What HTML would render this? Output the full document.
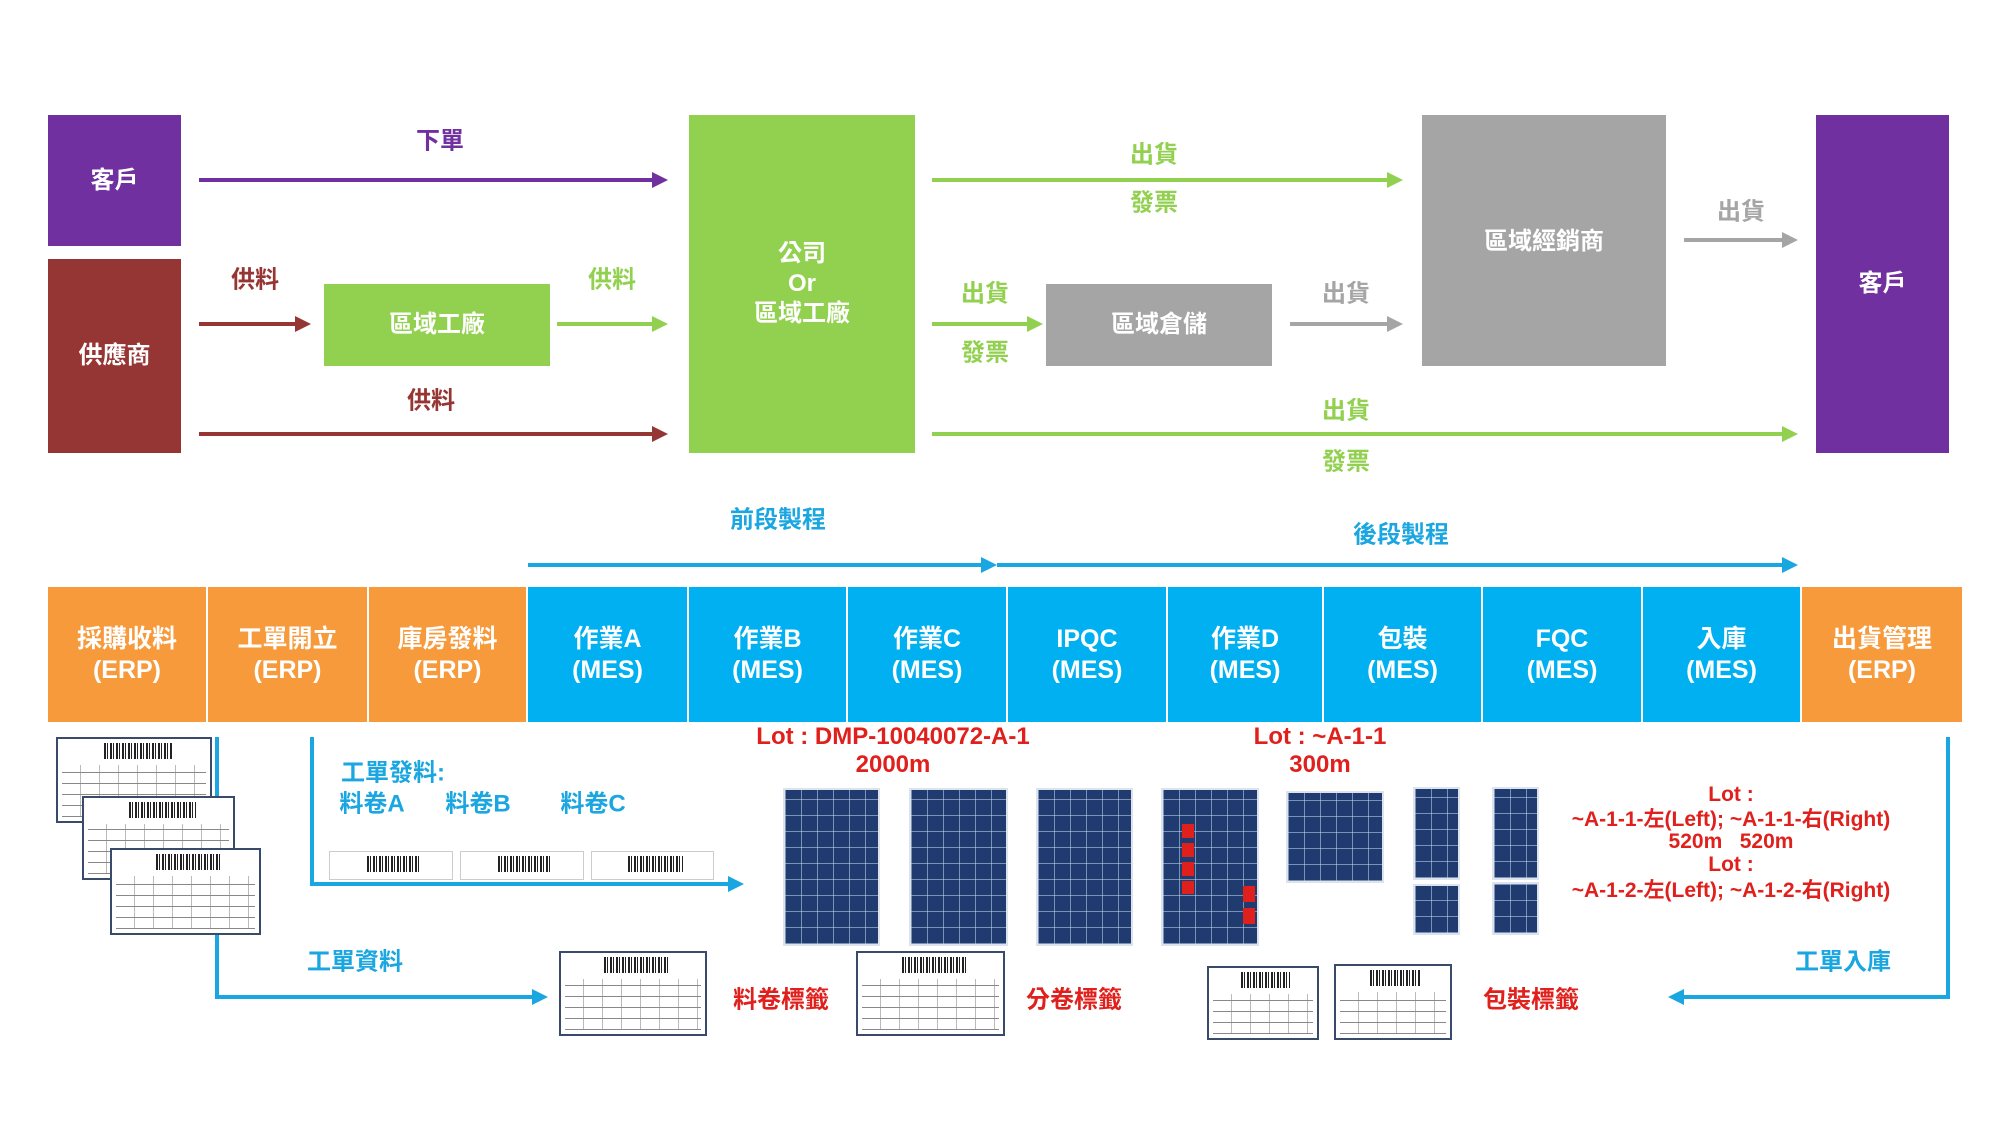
<!DOCTYPE html>
<html><head><meta charset="utf-8"><style>
body{margin:0;width:2000px;height:1125px;background:#fff;position:relative;overflow:hidden;font-family:"Liberation Sans","Noto Sans CJK TC",sans-serif}
.b{position:absolute;display:flex;align-items:center;justify-content:center;text-align:center;color:#fff;font-size:24px;line-height:30px;font-weight:bold}
.t{position:absolute;transform:translate(-50%,-50%);white-space:nowrap;font-size:24px;font-weight:bold}
.c{position:absolute;top:587px;height:135px;display:flex;align-items:center;justify-content:center;text-align:center;color:#fff;font-size:25px;line-height:31px;box-sizing:border-box;border-right:2px solid #fff;font-weight:bold}
.o{background:#f79a3c}.bl{background:#00b0f0}
.p{position:absolute;background-color:#1f3b70;background-image:repeating-linear-gradient(90deg,rgba(200,215,240,.55) 0 1px,transparent 1px 16px),repeating-linear-gradient(0deg,rgba(200,215,240,.55) 0 1px,transparent 1px 16px);border:2px solid #dde3ec;box-sizing:border-box}
.lb{position:absolute;border:2px solid #3a4a6a;background:#fff;box-sizing:border-box}
.lb::before{content:"";position:absolute;left:30%;top:4px;width:45%;height:16px;background:repeating-linear-gradient(90deg,#222 0 2px,#fff 2px 3px,#222 3px 4px,#fff 4px 6px)}
.lb::after{content:"";position:absolute;left:4px;right:4px;top:26px;bottom:4px;background:repeating-linear-gradient(0deg,#888 0 1px,transparent 1px 11px),repeating-linear-gradient(90deg,transparent 0 18px,#bbb 18px 19px)}
.r{color:#e0201c}.bt{color:#1aa6e0}
</style></head><body>
<div class="b" style="left:48px;top:115px;width:133px;height:131px;background:#7030a0">客戶</div>
<div class="b" style="left:48px;top:259px;width:133px;height:194px;background:#963634">供應商</div>
<div class="b" style="left:324px;top:284px;width:226px;height:82px;background:#92d050">區域工廠</div>
<div class="b" style="left:689px;top:115px;width:226px;height:338px;background:#92d050">公司<br>Or<br>區域工廠</div>
<div class="b" style="left:1046px;top:284px;width:226px;height:82px;background:#a5a5a5">區域倉儲</div>
<div class="b" style="left:1422px;top:115px;width:244px;height:251px;background:#a5a5a5;align-items:flex-start"><span style="margin-top:112px">區域經銷商</span></div>
<div class="b" style="left:1816px;top:115px;width:133px;height:338px;background:#7030a0">客戶</div>

<svg style="position:absolute;left:0;top:0" width="2000" height="1125">
<defs>
<marker id="mp" markerWidth="4" markerHeight="4" refX="3" refY="2" orient="auto"><path d="M0,0L4,2L0,4z" fill="#7030a0"/></marker>
<marker id="mr" markerWidth="4" markerHeight="4" refX="3" refY="2" orient="auto"><path d="M0,0L4,2L0,4z" fill="#963634"/></marker>
<marker id="mg" markerWidth="4" markerHeight="4" refX="3" refY="2" orient="auto"><path d="M0,0L4,2L0,4z" fill="#92d050"/></marker>
<marker id="ma" markerWidth="4" markerHeight="4" refX="3" refY="2" orient="auto"><path d="M0,0L4,2L0,4z" fill="#a5a5a5"/></marker>
<marker id="mb" markerWidth="4" markerHeight="4" refX="3" refY="2" orient="auto"><path d="M0,0L4,2L0,4z" fill="#1aa6e0"/></marker>
</defs>
<g stroke-width="4" fill="none">
<line x1="199" y1="180" x2="664" y2="180" stroke="#7030a0" marker-end="url(#mp)"/>
<line x1="199" y1="324" x2="307" y2="324" stroke="#963634" marker-end="url(#mr)"/>
<line x1="199" y1="434" x2="664" y2="434" stroke="#963634" marker-end="url(#mr)"/>
<line x1="557" y1="324" x2="664" y2="324" stroke="#92d050" marker-end="url(#mg)"/>
<line x1="932" y1="180" x2="1399" y2="180" stroke="#92d050" marker-end="url(#mg)"/>
<line x1="932" y1="324" x2="1039" y2="324" stroke="#92d050" marker-end="url(#mg)"/>
<line x1="932" y1="434" x2="1794" y2="434" stroke="#92d050" marker-end="url(#mg)"/>
<line x1="1290" y1="324" x2="1399" y2="324" stroke="#a5a5a5" marker-end="url(#ma)"/>
<line x1="1684" y1="240" x2="1794" y2="240" stroke="#a5a5a5" marker-end="url(#ma)"/>
<line x1="528" y1="565" x2="993" y2="565" stroke="#1aa6e0" marker-end="url(#mb)"/>
<line x1="997" y1="565" x2="1794" y2="565" stroke="#1aa6e0" marker-end="url(#mb)"/>
<polyline points="217,737 217,997 544,997" stroke="#1aa6e0" marker-end="url(#mb)"/>
<polyline points="312,737 312,884 740,884" stroke="#1aa6e0" marker-end="url(#mb)"/>
<polyline points="1948,737 1948,997 1672,997" stroke="#1aa6e0" marker-end="url(#mb)"/>
</g></svg>

<div class="t" style="left:440px;top:138px;color:#7030a0">下單</div>
<div class="t" style="left:255px;top:277px;color:#963634">供料</div>
<div class="t" style="left:431px;top:398px;color:#963634">供料</div>
<div class="t" style="left:612px;top:277px;color:#92d050">供料</div>
<div class="t" style="left:1154px;top:152px;color:#92d050">出貨</div>
<div class="t" style="left:1154px;top:200px;color:#92d050">發票</div>
<div class="t" style="left:985px;top:291px;color:#92d050">出貨</div>
<div class="t" style="left:985px;top:350px;color:#92d050">發票</div>
<div class="t" style="left:1346px;top:408px;color:#92d050">出貨</div>
<div class="t" style="left:1346px;top:459px;color:#92d050">發票</div>
<div class="t" style="left:1346px;top:291px;color:#a5a5a5">出貨</div>
<div class="t" style="left:1741px;top:209px;color:#a5a5a5">出貨</div>
<div class="t bt" style="left:778px;top:517px">前段製程</div>
<div class="t bt" style="left:1401px;top:532px">後段製程</div>

<div class="c o" style="left:48px;width:160px">採購收料<br>(ERP)</div>
<div class="c o" style="left:208px;width:161px">工單開立<br>(ERP)</div>
<div class="c o" style="left:369px;width:159px">庫房發料<br>(ERP)</div>
<div class="c bl" style="left:528px;width:161px">作業A<br>(MES)</div>
<div class="c bl" style="left:689px;width:159px">作業B<br>(MES)</div>
<div class="c bl" style="left:848px;width:160px">作業C<br>(MES)</div>
<div class="c bl" style="left:1008px;width:160px">IPQC<br>(MES)</div>
<div class="c bl" style="left:1168px;width:156px">作業D<br>(MES)</div>
<div class="c bl" style="left:1324px;width:159px">包裝<br>(MES)</div>
<div class="c bl" style="left:1483px;width:160px">FQC<br>(MES)</div>
<div class="c bl" style="left:1643px;width:159px">入庫<br>(MES)</div>
<div class="c o" style="left:1802px;width:160px;border-right:0">出貨管理<br>(ERP)</div>

<div class="lb" style="left:56px;top:737px;width:156px;height:86px"></div>
<div class="lb" style="left:82px;top:796px;width:153px;height:84px"></div>
<div class="lb" style="left:110px;top:848px;width:151px;height:87px"></div>
<div class="lb" style="left:559px;top:951px;width:148px;height:85px"></div>
<div class="lb" style="left:856px;top:951px;width:149px;height:85px"></div>
<div class="lb" style="left:1207px;top:966px;width:112px;height:74px"></div>
<div class="lb" style="left:1334px;top:964px;width:118px;height:76px"></div>
<div class="lb" style="left:329px;top:851px;width:124px;height:29px;border:1px solid #ccc"></div>
<div class="lb" style="left:460px;top:851px;width:124px;height:29px;border:1px solid #ccc"></div>
<div class="lb" style="left:591px;top:851px;width:123px;height:29px;border:1px solid #ccc"></div>

<div class="t bt" style="left:393px;top:770px">工單發料:</div>
<div class="t bt" style="left:372px;top:801px">料卷A</div>
<div class="t bt" style="left:478px;top:801px">料卷B</div>
<div class="t bt" style="left:593px;top:801px">料卷C</div>
<div class="t bt" style="left:355px;top:959px">工單資料</div>
<div class="t bt" style="left:1843px;top:959px">工單入庫</div>
<div class="t r" style="left:781px;top:997px">料卷標籤</div>
<div class="t r" style="left:1074px;top:997px">分卷標籤</div>
<div class="t r" style="left:1531px;top:997px">包裝標籤</div>
<div class="t r" style="left:893px;top:737px">Lot : DMP-10040072-A-1</div>
<div class="t r" style="left:893px;top:765px">2000m</div>
<div class="t r" style="left:1320px;top:737px">Lot : ~A-1-1</div>
<div class="t r" style="left:1320px;top:765px">300m</div>
<div class="t r" style="left:1731px;top:795px;font-size:21px">Lot :</div>
<div class="t r" style="left:1731px;top:818px;font-size:21px">~A-1-1-左(Left); ~A-1-1-右(Right)</div>
<div class="t r" style="left:1731px;top:842px;font-size:21px">520m&nbsp;&nbsp;&nbsp;520m</div>
<div class="t r" style="left:1731px;top:865px;font-size:21px">Lot :</div>
<div class="t r" style="left:1731px;top:889px;font-size:21px">~A-1-2-左(Left); ~A-1-2-右(Right)</div>

<div class="p" style="left:783px;top:788px;width:97px;height:158px"></div>
<div class="p" style="left:909px;top:788px;width:99px;height:158px"></div>
<div class="p" style="left:1036px;top:788px;width:97px;height:158px"></div>
<div class="p" style="left:1161px;top:788px;width:98px;height:158px"></div>
<div style="position:absolute;left:1182px;top:824px;width:12px;height:70px;background:repeating-linear-gradient(180deg,#e0201c 0 14px,transparent 14px 19px)"></div>
<div style="position:absolute;left:1243px;top:886px;width:12px;height:42px;background:repeating-linear-gradient(180deg,#e0201c 0 16px,transparent 16px 22px)"></div>
<div class="p" style="left:1286px;top:791px;width:98px;height:92px"></div>
<div class="p" style="left:1413px;top:787px;width:47px;height:93px"></div>
<div class="p" style="left:1413px;top:884px;width:47px;height:51px"></div>
<div class="p" style="left:1492px;top:787px;width:47px;height:93px"></div>
<div class="p" style="left:1492px;top:882px;width:47px;height:53px"></div>
</body></html>
